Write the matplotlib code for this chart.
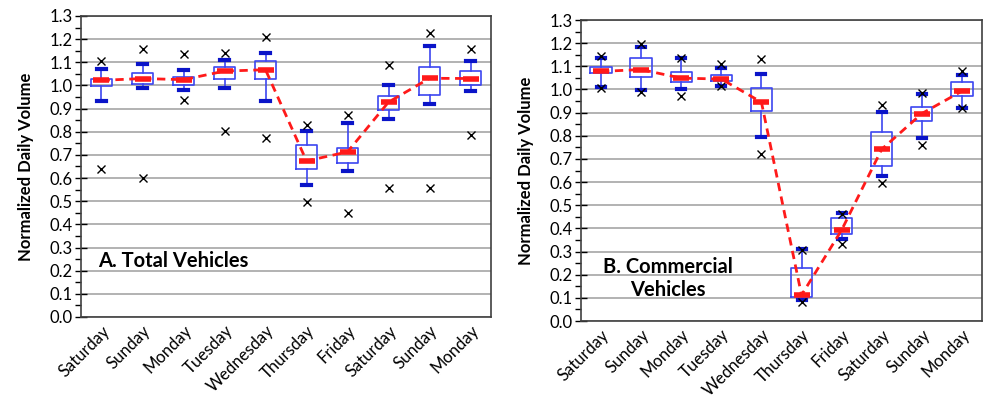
import matplotlib
matplotlib.use("Agg")
import matplotlib.pyplot as plt
from matplotlib.ticker import MultipleLocator

plt.rcParams['font.family'] = ['Lato', 'DejaVu Sans']

days = ['Saturday', 'Sunday', 'Monday', 'Tuesday', 'Wednesday',
        'Thursday', 'Friday', 'Saturday', 'Sunday', 'Monday']

# A. Total vehicles
tot_med = [1.022, 1.030, 1.025, 1.062, 1.068, 0.674, 0.713, 0.928, 1.031, 1.030]
tot_q1 = [0.997, 1.007, 1.003, 1.027, 1.027, 0.640, 0.663, 0.893, 0.960, 1.000]
tot_q3 = [1.026, 1.052, 1.036, 1.079, 1.104, 0.741, 0.731, 0.955, 1.079, 1.061]
tot_lo = [0.931, 0.990, 0.980, 0.990, 0.934, 0.568, 0.630, 0.853, 0.918, 0.978]
tot_hi = [1.073, 1.094, 1.065, 1.108, 1.141, 0.805, 0.836, 1.000, 1.171, 1.104]
tot_min = [0.640, 0.601, 0.938, 0.803, 0.774, 0.496, 0.448, 0.555, 0.555, 0.785]
tot_max = [1.105, 1.159, 1.138, 1.141, 1.210, 0.830, 0.872, 1.088, 1.226, 1.159]

# B. Commercial vehicles
com_med = [1.078, 1.086, 1.049, 1.045, 0.945, 0.112, 0.393, 0.742, 0.896, 0.993]
com_q1 = [1.071, 1.056, 1.032, 1.036, 0.908, 0.105, 0.376, 0.669, 0.865, 0.973]
com_q3 = [1.099, 1.138, 1.075, 1.061, 1.007, 0.229, 0.444, 0.816, 0.925, 1.033]
com_lo = [1.009, 0.999, 1.003, 1.016, 0.795, 0.091, 0.354, 0.625, 0.791, 0.922]
com_hi = [1.137, 1.182, 1.134, 1.094, 1.065, 0.311, 0.465, 0.901, 0.980, 1.062]
com_min = [1.006, 0.987, 0.971, 1.013, 0.723, 0.081, 0.334, 0.595, 0.762, 0.922]
com_max = [1.146, 1.195, 1.137, 1.112, 1.131, 0.307, 0.463, 0.934, 0.983, 1.079]

BOX = '#3c46f0'
CAP = '#0a14c8'
RED = '#ff1a1a'


def panel(ax, med, q1, q3, lo, hi, mn, mx, title, tx, ty):
    stats = []
    for i in range(len(med)):
        stats.append(dict(med=med[i], q1=q1[i], q3=q3[i], whislo=lo[i],
                          whishi=hi[i], fliers=[mn[i], mx[i]]))
    pos = list(range(len(med)))
    ax.bxp(stats, positions=pos, widths=0.53, capwidths=0.2, patch_artist=False,
           boxprops=dict(color=BOX, linewidth=1.2),
           whiskerprops=dict(color=BOX, linewidth=1.2),
           capprops=dict(color=CAP, linewidth=3),
           medianprops=dict(visible=False),
           flierprops=dict(marker='x', markeredgecolor='black', markersize=6,
                           markeredgewidth=1.0), zorder=3)
    ax.plot(pos, med, color=RED, linestyle=(0, (3, 2)), linewidth=2, zorder=4)
    ax.plot(pos, med, linestyle='none', marker='_', color=RED, markersize=12,
            markeredgewidth=4, zorder=5)

    ax.set_xlim(-0.5, len(med) - 0.5)
    ax.set_ylim(0, 1.3)
    ax.yaxis.set_major_locator(MultipleLocator(0.1))
    ax.yaxis.set_minor_locator(MultipleLocator(0.05))
    ax.yaxis.set_major_formatter(lambda v, p: '%.1f' % v)
    ax.grid(axis='y', color='#a6a6a6', linewidth=1.2, zorder=0)
    ax.set_axisbelow(True)
    ax.tick_params(axis='y', which='major', direction='inout', length=8,
                   width=1, labelsize=12, pad=2)
    ax.tick_params(axis='y', which='minor', direction='out', length=4, width=1)
    ax.tick_params(axis='x', length=0, labelsize=12, pad=4)
    ax.set_xticks(pos)
    ax.set_xticklabels(days, rotation=45, ha='right', rotation_mode='anchor')
    for s in ax.spines.values():
        s.set_color('#404040')
        s.set_linewidth(1.2)
    ax.set_ylabel('Normalized Daily Volume', fontsize=12, fontweight='bold',
                  labelpad=11)
    ax.text(tx, ty, title, fontsize=14.5, fontweight='bold', ha='center',
            va='center', multialignment='center', zorder=6)


fig = plt.figure(figsize=(9.83, 4.01), dpi=100)
ax1 = fig.add_axes([0.0824, 0.2095, 0.4171, 0.7506])
ax2 = fig.add_axes([0.591, 0.1995, 0.408, 0.7506])

panel(ax1, tot_med, tot_q1, tot_q3, tot_lo, tot_hi, tot_min, tot_max,
      'A. Total Vehicles', 1.74, 0.24)
panel(ax2, com_med, com_q1, com_q3, com_lo, com_hi, com_min, com_max,
      'B. Commercial\nVehicles', 1.66, 0.185)

fig.savefig('out.png', dpi=100)
